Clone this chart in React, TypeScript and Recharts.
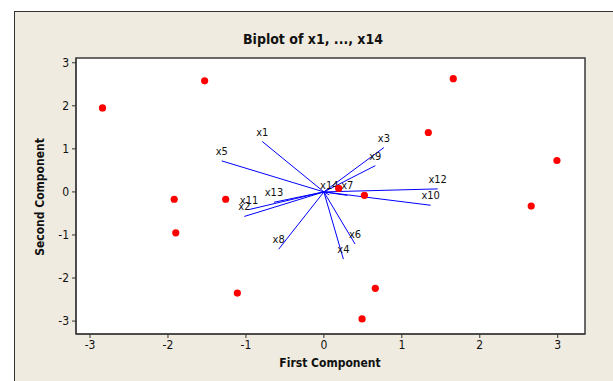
import { ScatterChart, Scatter, XAxis, YAxis, CartesianGrid, ReferenceArea } from 'recharts'

// observation scores (first / second component)
const scoreX = [-2.84, -1.53, 1.66, 1.34, 2.99, 2.66, -1.92, -1.9, -1.26, -1.11, 0.66, 0.49, 0.19, 0.52]
const scoreY = [1.95, 2.58, 2.63, 1.38, 0.73, -0.33, -0.17, -0.95, -0.17, -2.35, -2.24, -2.95, 0.08, -0.08]

// variable loadings (vector ends)
const varNames = ['x1', 'x2', 'x3', 'x4', 'x5', 'x6', 'x7', 'x8', 'x9', 'x10', 'x11', 'x12', 'x13', 'x14']
const loadX = [-0.79, -1.02, 0.77, 0.25, -1.31, 0.4, 0.3, -0.58, 0.66, 1.37, -0.96, 1.46, -0.64, 0.07]
const loadY = [1.17, -0.57, 1.03, -1.56, 0.72, -1.21, -0.08, -1.33, 0.61, -0.31, -0.41, 0.07, -0.24, -0.07]

const ticks = [-3, -2, -1, 0, 1, 2, 3]
const xDomain = [-3.18, 3.35]
const yDomain = [-3.3, 3.11]

const font = '"DejaVu Sans Condensed", "DejaVu Sans", sans-serif'

const scores = scoreX.map((x, i) => ({ x, y: scoreY[i] }))
const vectors = varNames.map((name, i) => ({ name, x: loadX[i], y: loadY[i] }))

const Dot = (props: any) => <circle cx={props.cx} cy={props.cy} r={3.6} fill="#ff0000" />
const NoDot = () => <g />
const VarLabel = (props: any) => (
  <text x={props.cx} y={props.cy - 6} textAnchor="middle" fontSize={11} fontFamily={font} fill="#111">
    {props.payload.name}
  </text>
)

export default function App() {
  return (
    <div style={{ position: 'absolute', left: 0, top: 0, width: 613, height: 381, background: '#fff', overflow: 'hidden' }}>
      <div
        style={{
          position: 'absolute',
          left: 14,
          top: 11,
          width: 640,
          height: 400,
          background: '#efebe0',
          borderLeft: '1.5px solid #333',
          borderTop: '1.5px solid #333',
        }}
      />
      <div style={{ position: 'absolute', left: 0, top: 0 }}>
        <ScatterChart width={613} height={381} margin={{ top: 58, right: 28, bottom: 0, left: 0 }}>
          <CartesianGrid horizontal={false} vertical={false} fill="#ffffff" />
          <XAxis
            type="number"
            dataKey="x"
            domain={xDomain}
            ticks={ticks}
            allowDataOverflow
            height={47}
            tickSize={4}
            tickMargin={2}
            stroke="#333"
            tick={{ fontSize: 12, fontFamily: font, fill: '#111' }}
          />
          <YAxis
            type="number"
            dataKey="y"
            domain={yDomain}
            ticks={ticks}
            allowDataOverflow
            width={76}
            tickSize={4}
            tickMargin={3}
            stroke="#333"
            tick={{ fontSize: 12, fontFamily: font, fill: '#111' }}
          />
          <ReferenceArea
            x1={xDomain[0]}
            x2={xDomain[1]}
            y1={yDomain[0]}
            y2={yDomain[1]}
            fill="none"
            stroke="#3a3a3a"
            strokeWidth={1.5}
            ifOverflow="visible"
          />
          {vectors.map((v) => (
            <Scatter
              key={v.name}
              data={[{ x: 0, y: 0 }, { x: v.x, y: v.y }]}
              line={{ stroke: '#0000ff', strokeWidth: 1 }}
              shape={NoDot}
              isAnimationActive={false}
            />
          ))}
          <Scatter data={vectors} shape={VarLabel} isAnimationActive={false} />
          <Scatter data={scores} shape={Dot} isAnimationActive={false} />
        </ScatterChart>
      </div>
      <div
        style={{
          position: 'absolute',
          left: 313,
          top: 39,
          transform: 'translate(-50%, -50%)',
          fontFamily: font,
          fontWeight: 'bold',
          fontSize: 14,
          whiteSpace: 'nowrap',
          color: '#111',
        }}
      >
        Biplot of x1, ..., x14
      </div>
      <div
        style={{
          position: 'absolute',
          left: 330,
          top: 363,
          transform: 'translate(-50%, -50%)',
          fontFamily: font,
          fontWeight: 'bold',
          fontSize: 12,
          whiteSpace: 'nowrap',
          color: '#111',
        }}
      >
        First Component
      </div>
      <div
        style={{
          position: 'absolute',
          left: 40,
          top: 197,
          transform: 'translate(-50%, -50%) rotate(-90deg)',
          fontFamily: font,
          fontWeight: 'bold',
          fontSize: 12,
          whiteSpace: 'nowrap',
          color: '#111',
        }}
      >
        Second Component
      </div>
    </div>
  )
}
